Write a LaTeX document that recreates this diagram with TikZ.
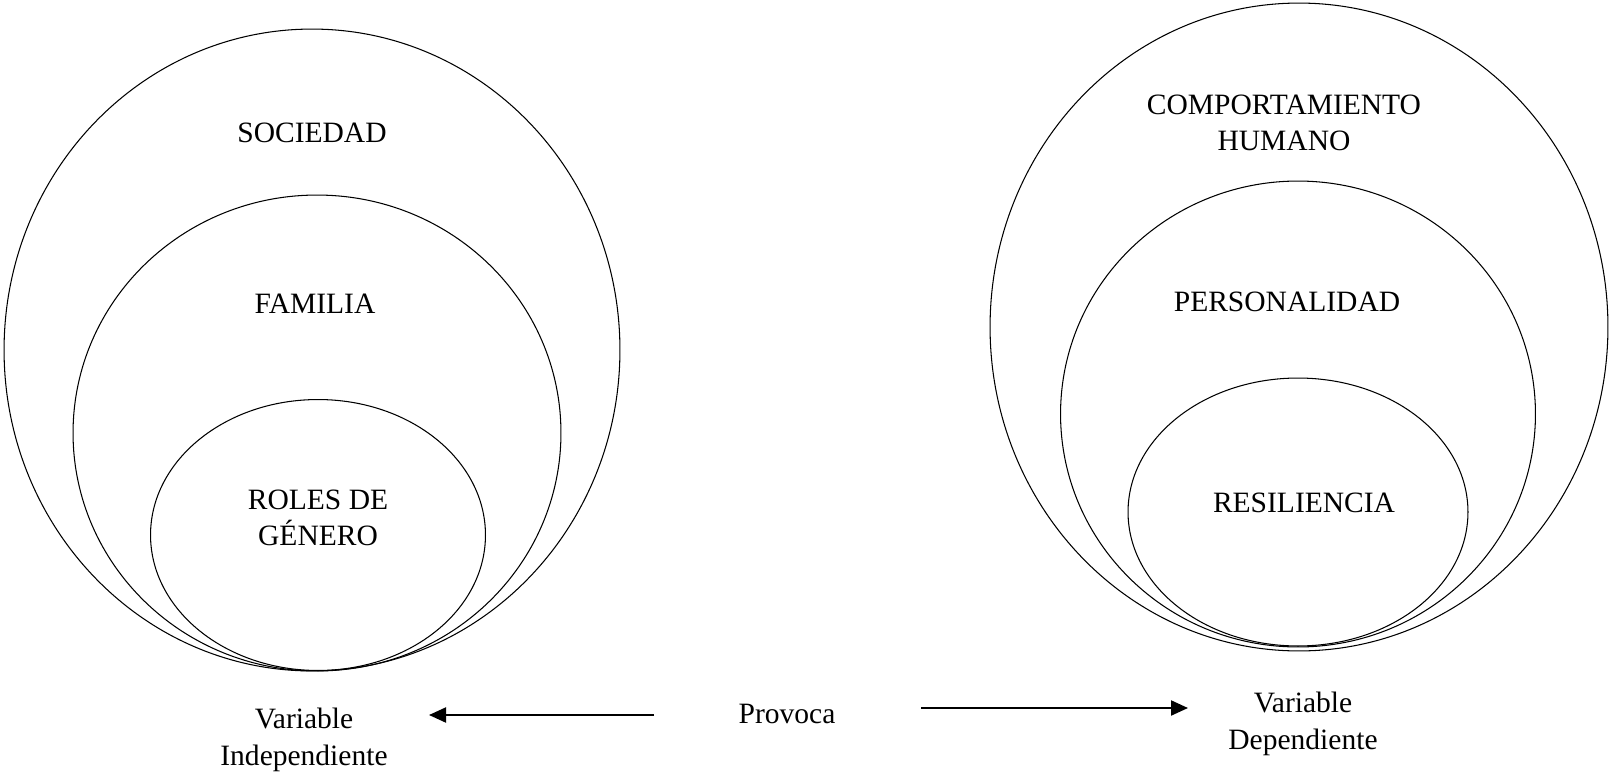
\documentclass[tikz,border=0pt]{standalone}
\usepackage{fontspec}
\setmainfont{Liberation Serif}
\usetikzlibrary{shapes.geometric,arrows.meta}
\tikzset{
	aro/.style={draw,ellipse,line width=0.6pt,inner sep=0pt,outer sep=0pt},
	txt/.style={align=center,font=\fontsize{16.8}{20.8}\selectfont},
	flecha/.style={line width=1.2pt,-{Triangle[length=0.34cm,width=0.3cm]}}
}
\begin{document}
\begin{tikzpicture}[x=0.02cm,y=-0.02cm]
	\useasboundingbox (0,0) rectangle (1609,774);
	% izquierda
	\node[aro,minimum width=12.32cm,minimum height=12.84cm] (soc) at(312,350){};
	\node[aro,minimum width=9.76cm,minimum height=9.52cm] (fam) at(317,433){};
	\node[aro,minimum width=6.7cm,minimum height=5.42cm] (rol) at(318,535){};
	\node[txt] (tsoc) at(312,133){SOCIEDAD};
	\node[txt] (tfam) at(315,304){FAMILIA};
	\node[txt] (trol) at(318,518){ROLES DE\\GÉNERO};
	% derecha
	\node[aro,minimum width=12.36cm,minimum height=12.96cm] (comp) at(1299,327){};
	\node[aro,minimum width=9.5cm,minimum height=9.32cm] (pers) at(1298,414){};
	\node[aro,minimum width=6.8cm,minimum height=5.36cm] (res) at(1298,512){};
	\node[txt] (tcomp) at(1284,123){COMPORTAMIENTO\\HUMANO};
	\node[txt] (tpers) at(1287,302){PERSONALIDAD};
	\node[txt] (tres) at(1304,503){RESILIENCIA};
	% abajo
	\node[txt] (vi) at(304,740){Variable\\Independiente};
	\node[txt] (prov) at(787,714){Provoca};
	\node[txt] (vd) at(1303,724){Variable\\Dependiente};
	\coordinate (a1) at(654,715);
	\coordinate (a2) at(429,715);
	\coordinate (b1) at(921,708);
	\coordinate (b2) at(1188,708);
	\draw[flecha] (a1)--(a2);
	\draw[flecha] (b1)--(b2);
\end{tikzpicture}
\end{document}
